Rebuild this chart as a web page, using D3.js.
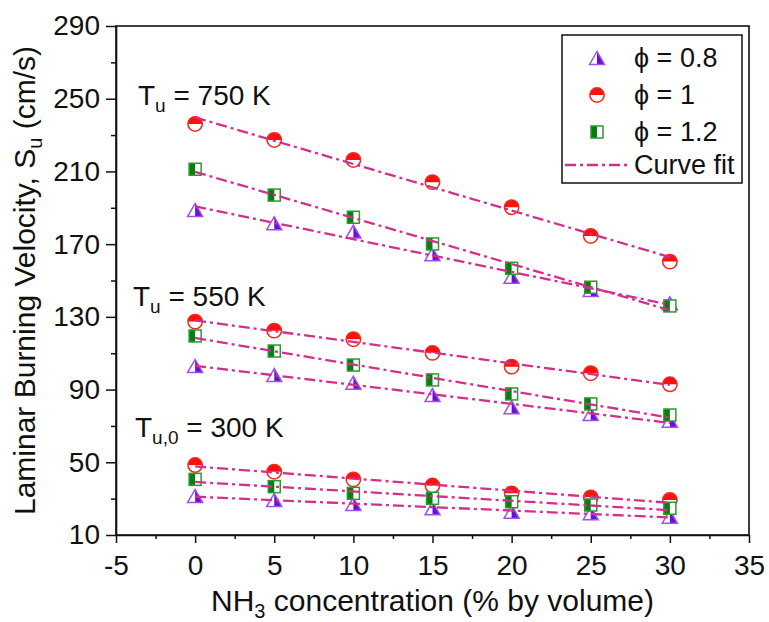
<!DOCTYPE html>
<html>
<head>
<meta charset="utf-8">
<script src="https://cdn.jsdelivr.net/npm/d3@7"></script>
<style>
  body { margin: 0; background: #fff; }
  text { font-family: "Liberation Sans", Arial, sans-serif; fill: #111; }
</style>
</head>
<body>
<svg id="chart" width="769" height="622"></svg>
<script>
// NH3 volume fraction in the fuel blend (%)
const concentrations = [0, 5, 10, 15, 20, 25, 30];

// Laminar burning velocity S_u (cm/s), one array per temperature and equivalence ratio
const su750Phi08 = [188.8, 181.5, 176.9, 164.5, 152.1, 144.8, 137.5];
const su750Phi10 = [236.1, 227.3, 216.3, 204.1, 190.3, 174.5, 160.4];
const su750Phi12 = [211.2, 197.0, 184.8, 170.1, 156.7, 146.3, 136.0];
const su550Phi08 = [103.0, 98.0, 93.8, 87.0, 80.3, 76.6, 72.9];
const su550Phi10 = [127.4, 122.4, 117.7, 110.2, 102.6, 99.0, 92.9];
const su550Phi12 = [119.5, 111.2, 103.5, 95.3, 87.6, 82.1, 76.0];
const su300Phi08 = [31.5, 29.3, 27.1, 24.7, 22.8, 21.9, 20.1];
const su300Phi10 = [48.5, 44.8, 40.6, 37.2, 32.9, 30.7, 29.3];
const su300Phi12 = [40.6, 36.6, 32.9, 30.2, 28.3, 26.5, 24.7];

// Axis ticks
const xTicks = [-5, 0, 5, 10, 15, 20, 25, 30, 35];
const xMinorTicks = [-2.5, 2.5, 7.5, 12.5, 17.5, 22.5, 27.5, 32.5];
const yTicks = [10, 50, 90, 130, 170, 210, 250, 290];
const yMinorTicks = [30, 70, 110, 150, 190, 230, 270];

// Temperature group labels
const tempLabels = [
  { sub: "u", value: "750 K", x: 138, y: 105 },
  { sub: "u", value: "550 K", x: 133, y: 306 },
  { sub: "u,0", value: "300 K", x: 135, y: 437 }
];

const legendLabels = ["\u03D5 = 0.8", "\u03D5 = 1", "\u03D5 = 1.2", "Curve fit"];

const series = [
  { kind: "tri", values: su750Phi08 }, { kind: "cir", values: su750Phi10 }, { kind: "sq", values: su750Phi12 },
  { kind: "tri", values: su550Phi08 }, { kind: "cir", values: su550Phi10 }, { kind: "sq", values: su550Phi12 },
  { kind: "tri", values: su300Phi08 }, { kind: "cir", values: su300Phi10 }, { kind: "sq", values: su300Phi12 }
];

const svg = d3.select("#chart");
const plotLeft = 116, plotRight = 749, plotTop = 26, plotBottom = 535;
const x = d3.scaleLinear().domain([-5, 35]).range([plotLeft, plotRight]);
const y = d3.scaleLinear().domain([10, 290]).range([plotBottom, plotTop]);

const fitColor = "#d42f8e";
const fitDash = "11,4,3,4";

// Half-filled markers
function drawMarker(g, kind) {
  if (kind === "cir") {
    const r = 7.2;
    g.append("circle").attr("r", r).attr("fill", "#fff");
    g.append("path").attr("d", `M${-r},0A${r},${r} 0 0 1 ${r},0Z`).attr("fill", "#ff1010");
    g.append("circle").attr("r", r).attr("fill", "none").attr("stroke", "#ee2a1a").attr("stroke-width", 1.5);
  } else if (kind === "sq") {
    const s = 12;
    g.append("rect").attr("x", -s / 2).attr("y", -s / 2).attr("width", s).attr("height", s).attr("fill", "#fff");
    g.append("rect").attr("x", -s / 2).attr("y", -s / 2).attr("width", s / 2).attr("height", s).attr("fill", "#0a7d12");
    g.append("rect").attr("x", -s / 2).attr("y", -s / 2).attr("width", s).attr("height", s)
      .attr("fill", "none").attr("stroke", "#2a9a32").attr("stroke-width", 1.5);
  } else {
    const w = 7.5, h = 6.5;
    g.append("path").attr("d", `M${-w},${h}L0,${-h}L${w},${h}Z`).attr("fill", "#fff");
    g.append("path").attr("d", `M0,${-h}L${w},${h}L0,${h}Z`).attr("fill", "#6a10d6");
    g.append("path").attr("d", `M${-w},${h}L0,${-h}L${w},${h}Z`)
      .attr("fill", "none").attr("stroke", "#a050f0").attr("stroke-width", 1.5).attr("stroke-linejoin", "miter");
  }
}

// Least-squares straight line through one series
function linearFit(xs, ys) {
  const mx = d3.mean(xs), my = d3.mean(ys);
  const sxy = d3.sum(xs, (v, i) => (v - mx) * (ys[i] - my));
  const sxx = d3.sum(xs, v => (v - mx) * (v - mx));
  const b = sxy / sxx;
  return { a: my - b * mx, b };
}

// Axes: major and minor ticks pointing outward, labels with a plain hyphen-minus
const plainFormat = d => String(d);
svg.append("g").attr("transform", `translate(0,${plotBottom})`)
  .call(d3.axisBottom(x).tickValues(xTicks).tickFormat(plainFormat).tickSize(8).tickPadding(12).tickSizeOuter(0));
svg.append("g").attr("transform", `translate(0,${plotBottom})`)
  .call(d3.axisBottom(x).tickValues(xMinorTicks).tickSize(4).tickFormat("").tickSizeOuter(0))
  .select(".domain").remove();
svg.append("g").attr("transform", `translate(${plotLeft},0)`)
  .call(d3.axisLeft(y).tickValues(yTicks).tickFormat(plainFormat).tickSize(10).tickPadding(6).tickSizeOuter(0));
svg.append("g").attr("transform", `translate(${plotLeft},0)`)
  .call(d3.axisLeft(y).tickValues(yMinorTicks).tickSize(5).tickFormat("").tickSizeOuter(0))
  .select(".domain").remove();

svg.selectAll(".tick line").attr("stroke", "#111").attr("stroke-width", 1.5);
svg.selectAll(".domain").attr("stroke", "#111").attr("stroke-width", 1.6);
svg.selectAll(".tick text").attr("font-size", 28).attr("fill", "#111")
  .attr("font-family", "'Liberation Sans', Arial, sans-serif");

// Frame around the plot area
svg.append("rect").attr("x", plotLeft).attr("y", plotTop)
  .attr("width", plotRight - plotLeft).attr("height", plotBottom - plotTop)
  .attr("fill", "none").attr("stroke", "#111").attr("stroke-width", 1.6);

// Markers
const plot = svg.append("g");
series.forEach(s => {
  s.values.forEach((v, i) => {
    const g = plot.append("g").attr("transform", `translate(${x(concentrations[i])},${y(v)})`);
    drawMarker(g, s.kind);
  });
});

// Fitted lines on top of the markers
const line = d3.line().x(d => x(d[0])).y(d => y(d[1]));
series.forEach(s => {
  const f = linearFit(concentrations, s.values);
  const x0 = concentrations[0], x1 = concentrations[concentrations.length - 1];
  plot.append("path")
    .attr("d", line([[x0, f.a + f.b * x0], [x1, f.a + f.b * x1]]))
    .attr("fill", "none").attr("stroke", fitColor).attr("stroke-width", 2.3)
    .attr("stroke-dasharray", fitDash);
});

// Temperature annotations
tempLabels.forEach(t => {
  const txt = svg.append("text").attr("x", t.x).attr("y", t.y).attr("font-size", 28);
  txt.append("tspan").text("T");
  txt.append("tspan").attr("dy", 7).attr("font-size", 19).text(t.sub);
  txt.append("tspan").attr("dy", -7).text(" = " + t.value);
});

// Axis titles
const yTitle = svg.append("text").attr("transform", `translate(35,${(plotTop + plotBottom) / 2}) rotate(-90)`)
  .attr("text-anchor", "middle").attr("font-size", 30);
yTitle.append("tspan").text("Laminar Burning Velocity, S");
yTitle.append("tspan").attr("dy", 7).attr("font-size", 20).text("u");
yTitle.append("tspan").attr("dy", -7).text(" (cm/s)");

const xTitle = svg.append("text").attr("x", (plotLeft + plotRight) / 2).attr("y", 611)
  .attr("text-anchor", "middle").attr("font-size", 30);
xTitle.append("tspan").text("NH");
xTitle.append("tspan").attr("dy", 7).attr("font-size", 20).text("3");
xTitle.append("tspan").attr("dy", -7).text(" concentration (% by volume)");

// Legend
const legend = svg.append("g");
legend.append("rect").attr("x", 562).attr("y", 35).attr("width", 180).attr("height", 148)
  .attr("fill", "#fff").attr("stroke", "#111").attr("stroke-width", 1.5);
const legendKinds = ["tri", "cir", "sq"];
const legendRows = [58, 95, 132, 165];
legendKinds.forEach((k, i) => {
  drawMarker(legend.append("g").attr("transform", `translate(597,${legendRows[i]})`), k);
});
legend.append("line").attr("x1", 565).attr("x2", 628).attr("y1", legendRows[3]).attr("y2", legendRows[3])
  .attr("stroke", fitColor).attr("stroke-width", 2.3).attr("stroke-dasharray", fitDash);
legendLabels.forEach((label, i) => {
  legend.append("text").attr("x", 634).attr("y", legendRows[i] + 9).attr("font-size", 27).text(label);
});
</script>
</body>
</html>
